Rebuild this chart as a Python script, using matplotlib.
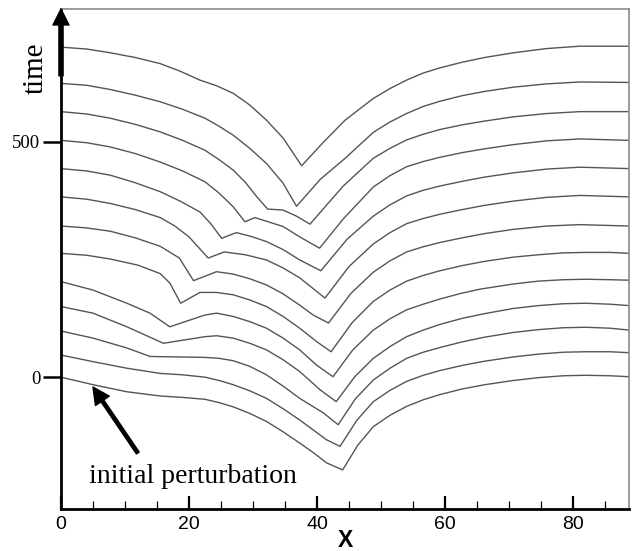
import matplotlib.pyplot as plt
from matplotlib.ticker import MultipleLocator

plt.rcParams["font.family"] = "Liberation Serif"

# fronts, bottom (initial) to top
c1_x = [0, 5.0, 10.3, 15.5, 19.0, 22.5, 24.7, 26.9, 29.5, 32.1, 34.7, 37.3, 39.4, 41.5, 44.0, 46.4, 48.8, 51.4, 54.0, 56.6, 59.2, 62.7, 66.2, 70.7, 74.6, 78.5, 82.0, 85.8, 88.75]
c1_y = [0, -16, -31, -40, -43, -47, -54, -63, -77, -94, -116, -140, -160, -182, -197, -144, -105, -81, -62, -48, -37, -25, -16, -7, -1, 3, 4, 3, 1]

c2_x = [0, 5.0, 10.3, 15.5, 19.0, 22.5, 24.7, 26.9, 29.5, 32.1, 34.7, 37.3, 39.4, 41.5, 43.6, 46.2, 48.8, 51.4, 54.0, 56.6, 59.2, 62.7, 66.2, 70.7, 74.6, 78.5, 82.0, 85.8, 88.75]
c2_y = [47, 33, 19, 8, 5, 0, -7, -16, -29, -45, -67, -91, -112, -133, -147, -92, -52, -28, -9, 4, 14, 25, 34, 43, 49, 53, 54, 54, 52]

c3_x = [0, 5.0, 10.3, 13.9, 22.5, 24.7, 26.9, 29.5, 32.1, 34.7, 37.3, 41.0, 43.3, 46.0, 48.8, 51.4, 54.0, 56.6, 59.2, 62.7, 66.2, 70.7, 74.6, 78.5, 82.0, 85.8, 88.75]
c3_y = [98, 83, 62, 44, 42, 40, 35, 23, 5, -19, -45, -76, -101, -46, -6, 19, 40, 53, 63, 75, 85, 95, 101, 105, 106, 104, 100]

c4_x = [0, 5.0, 10.3, 16.0, 22.5, 24.3, 26.9, 29.5, 32.1, 34.7, 37.3, 40.5, 43.0, 45.9, 48.8, 51.4, 54.0, 56.6, 59.2, 62.7, 66.2, 70.7, 74.6, 78.5, 82.0, 85.8, 88.75]
c4_y = [150, 136, 107, 72, 86, 88, 83, 72, 58, 37, 12, -27, -52, 1, 40, 65, 86, 100, 112, 125, 135, 146, 152, 156, 157, 155, 152]

c5_x = [0, 5.0, 10.3, 13.9, 17.0, 22.5, 24.3, 26.9, 29.5, 32.1, 34.7, 37.3, 39.9, 42.5, 45.6, 48.8, 51.4, 54.0, 56.6, 59.2, 62.5, 65.5, 70.7, 74.6, 78.5, 82.0, 85.8, 88.75]
c5_y = [203, 185, 157, 136, 107, 132, 136, 129, 118, 104, 83, 58, 26, 1, 58, 100, 124, 143, 155, 166, 178, 187, 198, 204, 207, 208, 207, 206]

c6_x = [0, 4.0, 7.7, 12.0, 15.5, 17.0, 18.7, 21.7, 24.3, 26.9, 29.5, 32.1, 34.7, 37.3, 39.9, 42.2, 45.5, 48.8, 51.4, 54.0, 56.6, 59.2, 62.7, 66.2, 70.7, 74.6, 78.5, 82.0, 85.8, 88.75]
c6_y = [263, 259, 251, 238, 220, 200, 157, 180, 180, 175, 164, 150, 129, 104, 76, 54, 116, 161, 185, 204, 216, 226, 237, 246, 255, 260, 264, 265, 265, 263]

c7_x = [0, 4.0, 7.7, 11.6, 15.5, 18.5, 20.7, 24.3, 26.9, 29.5, 32.1, 34.7, 37.3, 39.4, 41.8, 45.3, 48.8, 51.4, 54.0, 56.6, 59.2, 62.7, 66.2, 70.7, 75.9, 81.1, 88.75]
c7_y = [321, 317, 310, 296, 278, 253, 205, 224, 219, 209, 196, 177, 153, 132, 115, 178, 223, 247, 266, 277, 286, 296, 305, 314, 321, 324, 321]

c8_x = [0, 4.0, 7.7, 11.6, 15.5, 17.8, 20.0, 23.0, 25.5, 28.8, 32.1, 34.7, 37.3, 41.25, 45.0, 48.8, 51.4, 54.0, 56.6, 59.2, 62.7, 66.2, 70.7, 75.9, 81.1, 88.75]
c8_y = [383, 378, 369, 356, 339, 321, 298, 253, 266, 260, 249, 232, 211, 168, 235, 283, 307, 326, 337, 346, 356, 365, 374, 382, 386, 383]

c9_x = [0, 4.0, 7.7, 11.6, 15.5, 18.6, 21.7, 23.4, 25.1, 27.4, 29.7, 32.1, 34.7, 37.3, 40.6, 44.7, 48.8, 51.4, 54.0, 56.6, 59.2, 62.7, 66.2, 70.7, 75.9, 81.1, 88.75]
c9_y = [443, 438, 429, 413, 394, 374, 351, 326, 295, 307, 299, 288, 271, 249, 226, 293, 342, 366, 385, 397, 406, 416, 425, 434, 442, 446, 443]

c10_x = [0, 4.0, 7.7, 11.6, 15.5, 19.0, 22.5, 24.7, 26.9, 28.75, 30.3, 34.7, 37.3, 40.4, 44.1, 48.8, 51.4, 54.0, 56.6, 59.2, 62.7, 66.2, 70.7, 75.9, 81.1, 88.75]
c10_y = [503, 498, 489, 475, 457, 438, 415, 391, 362, 330, 339, 320, 298, 274, 336, 404, 428, 447, 458, 467, 477, 485, 494, 502, 506, 503]

c11_x = [0, 4.0, 7.7, 11.6, 15.5, 19.0, 22.5, 24.7, 26.9, 28.8, 30.6, 32.3, 34.7, 36.8, 38.9, 44.1, 48.8, 51.4, 54.0, 56.6, 59.2, 62.7, 66.2, 70.7, 75.9, 81.1, 88.75]
c11_y = [564, 559, 550, 537, 521, 503, 482, 462, 440, 414, 383, 357, 355, 342, 325, 406, 465, 486, 504, 516, 526, 536, 544, 553, 560, 564, 564]

c12_x = [0, 4.0, 7.7, 11.6, 15.5, 19.0, 22.5, 24.7, 26.9, 29.5, 32.1, 34.7, 36.8, 40.5, 44.4, 48.8, 51.4, 54.0, 56.6, 59.2, 62.7, 66.2, 70.7, 75.9, 81.1, 88.75]
c12_y = [624, 620, 611, 599, 585, 569, 550, 533, 514, 486, 454, 412, 363, 420, 465, 520, 542, 560, 575, 586, 598, 607, 616, 623, 627, 626]

c13_x = [0, 4.0, 7.7, 11.6, 15.5, 18.6, 21.7, 24.3, 26.9, 29.5, 32.1, 34.7, 37.6, 41.0, 44.4, 48.8, 51.4, 54.0, 56.6, 59.2, 62.7, 66.2, 70.7, 75.9, 81.1, 88.75]
c13_y = [701, 697, 689, 679, 666, 650, 631, 619, 603, 578, 546, 508, 449, 499, 546, 592, 613, 631, 646, 657, 669, 679, 689, 698, 703, 703]

fronts = [(c1_x, c1_y), (c2_x, c2_y), (c3_x, c3_y), (c4_x, c4_y), (c5_x, c5_y),
          (c6_x, c6_y), (c7_x, c7_y), (c8_x, c8_y), (c9_x, c9_y), (c10_x, c10_y),
          (c11_x, c11_y), (c12_x, c12_y), (c13_x, c13_y)]

fig = plt.figure(figsize=(6.36, 5.51), dpi=100)
ax = fig.add_axes([61 / 636, 1 - 509 / 551, 568 / 636, 500 / 551])

for x, y in fronts:
    ax.plot(x, y, color="#555555", lw=1.0)

ax.set_xlim(0, 88.75)
ax.set_ylim(-280, 782)

# axes look
for s in ["top", "right"]:
    ax.spines[s].set_color("#8a8a8a")
    ax.spines[s].set_linewidth(1.2)
for s in ["left", "bottom"]:
    ax.spines[s].set_color("black")
    ax.spines[s].set_linewidth(2.0)

ax.set_xticks([0, 20, 40, 60, 80])
ax.xaxis.set_minor_locator(MultipleLocator(5))
ax.set_yticks([0, 500])
ax.tick_params(axis="x", which="major", direction="in", length=9.5, width=1.6,
               labelsize=14, labelfontfamily="Liberation Sans", pad=5)
ax.tick_params(axis="x", which="minor", direction="in", length=5.5, width=0.9)
ax.tick_params(axis="y", which="major", direction="out", length=13, width=1.8,
               labelsize=13.5, labelfontfamily="Liberation Serif", pad=2)

ax.set_xlabel("X", fontsize=16.5, fontweight="bold", family="Liberation Sans", labelpad=-3)
ax.text(-0.044, 0.882, "time", transform=ax.transAxes, rotation=90,
        fontsize=21, ha="center", va="center")

# arrow on time axis
ax.annotate("", xy=(0, 782), xytext=(0, 640),
            arrowprops=dict(width=3.0, headwidth=11.5, headlength=11.5,
                            color="black", shrink=0),
            annotation_clip=False)

# initial perturbation label
ax.annotate("", xy=(5.0, -21), xytext=(12.0, -161),
            arrowprops=dict(width=2.4, headwidth=12, headlength=12,
                            color="black", shrink=0))
ax.text(4.4, -225, "initial perturbation", fontsize=20, ha="left", va="baseline")

fig.savefig("out.png", dpi=100)
